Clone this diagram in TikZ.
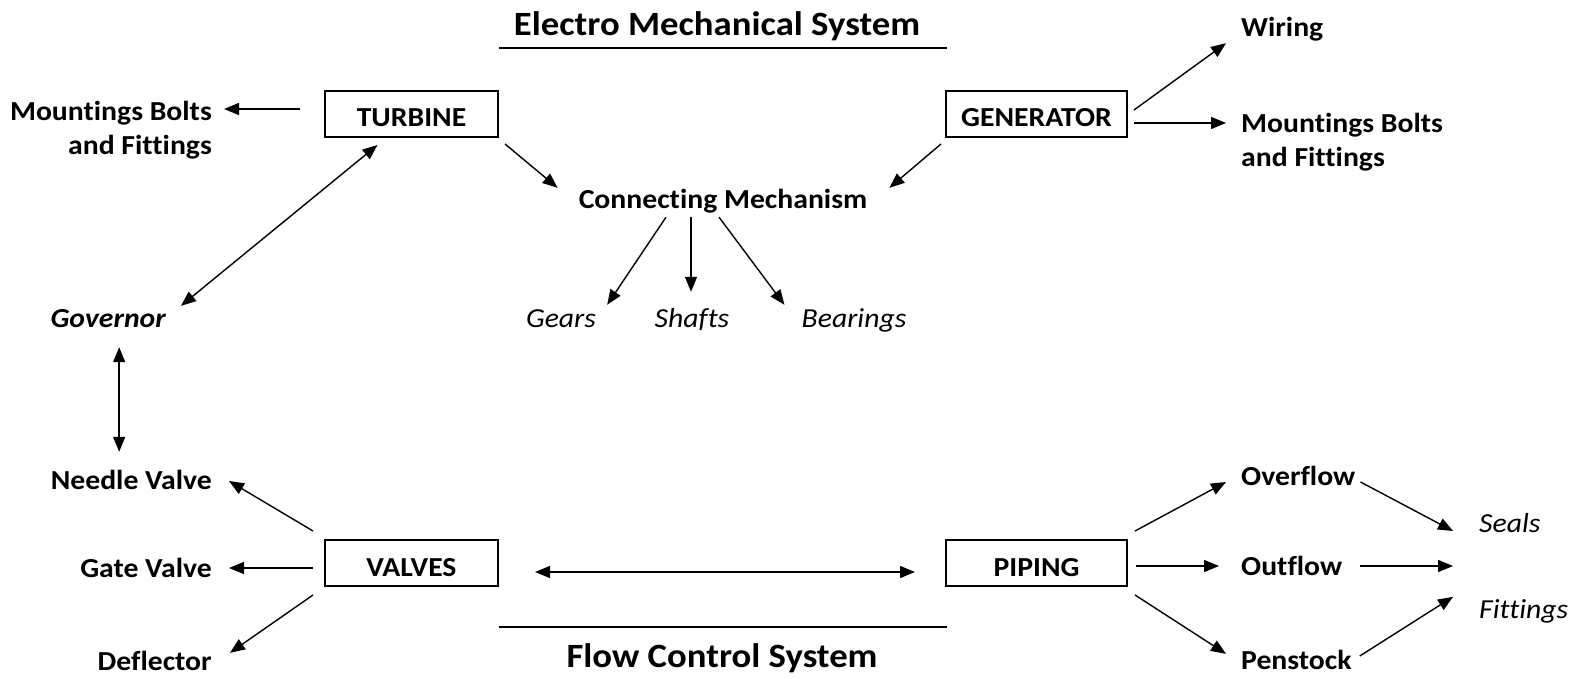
\documentclass[tikz,border=0pt]{standalone}
\usepackage{fontspec}
\setmainfont{Carlito}[FakeStretch=1.08,Ligatures=NoCommon]
\usetikzlibrary{arrows.meta}

\begin{document}
\begin{tikzpicture}[
    x=1pt, y=-1pt,
    >={Triangle[length=15pt,width=12pt]},
    blk/.style={draw,line width=2.6pt,rectangle,minimum height=46pt,minimum width=173pt,inner sep=0pt,outer sep=0pt,text height=26pt,text depth=0pt,font=\fontsize{27.5}{34}\selectfont\bfseries},
    lbl/.style={inner sep=0pt,text height=20pt,text depth=6pt,font=\fontsize{27.5}{34}\selectfont\bfseries},
    lbltwo/.style={inner sep=0pt,font=\fontsize{27.5}{34}\selectfont\bfseries},
    itm/.style={lbl,font=\fontsize{27.5}{34}\selectfont\itshape},
    ttl/.style={inner sep=0pt,font=\fontsize{34}{40}\selectfont\bfseries},
    con/.style={->,line width=1.4pt},
    rule/.style={line width=1.8pt},
]
    \useasboundingbox (0,0) rectangle (1581,679);

    % headings
    \node[ttl,anchor=base] (emtitle) at (717,36) {Electro Mechanical System};
    \draw[rule] (499,48) -- (947,48);
    \node[ttl,anchor=base] (fctitle) at (722,667) {Flow Control System};
    \draw[rule] (499,627) -- (947,627);

    % boxes
    \node[blk] (tur) at (411.5,114) {TURBINE};
    \node[blk,minimum width=181pt] (gen) at (1036.5,114) {GENERATOR};
    \node[blk] (val) at (411.5,563) {VALVES};
    \node[blk,minimum width=181pt] (pip) at (1036.5,563) {PIPING};

    % labels
    \node[lbltwo,align=right,anchor=base east] (mbl) at (212,155) {Mountings Bolts\\and Fittings};
    \node[lbltwo,align=left,anchor=base west] (mbr) at (1241,167) {Mountings Bolts\\and Fittings};
    \node[lbl,anchor=base west] (wir) at (1241,37) {Wiring};
    \node[lbl,anchor=base] (cmc) at (723,208) {Connecting Mechanism};
    \node[itm,anchor=base] (gea) at (561,327) {Gears};
    \node[itm,anchor=base] (sha) at (692,327) {Shafts};
    \node[itm,anchor=base] (bea) at (854,327) {Bearings};
    \node[lbl,font=\fontsize{27.5}{34}\selectfont\bfseries\itshape,anchor=base east] (gov) at (166,327) {Governor};
    \node[lbl,anchor=base east] (nv) at (212,489) {Needle Valve};
    \node[lbl,anchor=base east] (gv) at (212,577) {Gate Valve};
    \node[lbl,anchor=base east] (dfl) at (212,670) {Deflector};
    \node[lbl,anchor=base west] (ovf) at (1241,485) {Overflow};
    \node[lbl,anchor=base west] (otf) at (1241,575) {Outflow};
    \node[lbl,anchor=base west] (pst) at (1241,669) {Penstock};
    \node[itm,anchor=base west] (sea) at (1479,532) {Seals};
    \node[itm,anchor=base west] (fit) at (1479,618) {Fittings};
    \coordinate (sf) at (1453,566);

    % top half
    \draw[con,shorten <=25pt,shorten >=12pt] ([yshift=5pt]tur.west) -- ([yshift=5pt]tur.west -| mbl.east);
    \draw[con,<->] ([shift={(-34,8)}]tur.south) -- ([shift={(15,-1)}]gov.north east);
    \draw[con] ([shift={(7,7)}]tur.south east) -- ([shift={(-21,0)}]cmc.north west);
    \draw[con] ([shift={(-5,7)}]gen.south west) -- ([shift={(22,0)}]cmc.north east);
    \draw[con] ([shift={(7,-4)}]gen.east) -- ([shift={(-15,0)}]wir.south west);
    \draw[con,shorten <=7pt,shorten >=15pt] ([yshift=-9pt]gen.east) -- ([yshift=-9pt]gen.east -| mbr.west);
    \draw[con] ([shift={(-57,3)}]cmc.south) -- ([shift={(11,-2)}]gea.north east);
    \draw[con] ([shift={(-32,3)}]cmc.south) -- ([shift={(-1,-15)}]sha.north);
    \draw[con] ([shift={(-4,3)}]cmc.south) -- ([shift={(-17,-2)}]bea.north west);

    % bottom half
    \draw[con,<->,shorten <=14pt,shorten >=17pt] ([xshift=11pt]gov.south) -- ([xshift=11pt]gov.south |- nv.north);
    \draw[con] ([shift={(-12,-9)}]val.north west) -- ([shift={(17,-1)}]nv.east);
    \draw[con,shorten <=12pt,shorten >=17pt] ([yshift=-5pt]val.west) -- ([yshift=-5pt]val.west -| gv.east);
    \draw[con] ([shift={(-12,9)}]val.south west) -- ([shift={(18,3)}]dfl.north east);
    \draw[con,<->,shorten <=37pt,shorten >=31pt] ([yshift=-9pt]val.east) -- ([yshift=-9pt]pip.west);
    \draw[con] ([shift={(8,-9)}]pip.north east) -- ([shift={(-15,4)}]ovf.west);
    \draw[con,shorten <=9pt,shorten >=22pt] ([yshift=-3pt]pip.east) -- ([yshift=-3pt]pip.east -| otf.west);
    \draw[con] ([shift={(8,9)}]pip.south east) -- ([shift={(-15,5)}]pst.north west);
    \draw[con] ([shift={(5,4)}]ovf.east) -- ([shift={(-26,6)}]sea.west);
    \draw[con,shorten <=18pt] (otf.east |- sf) -- (sf);
    \draw[con] ([shift={(8,-6)}]pst.east) -- ([shift={(-26,-1)}]fit.north west);

\end{tikzpicture}
\end{document}
